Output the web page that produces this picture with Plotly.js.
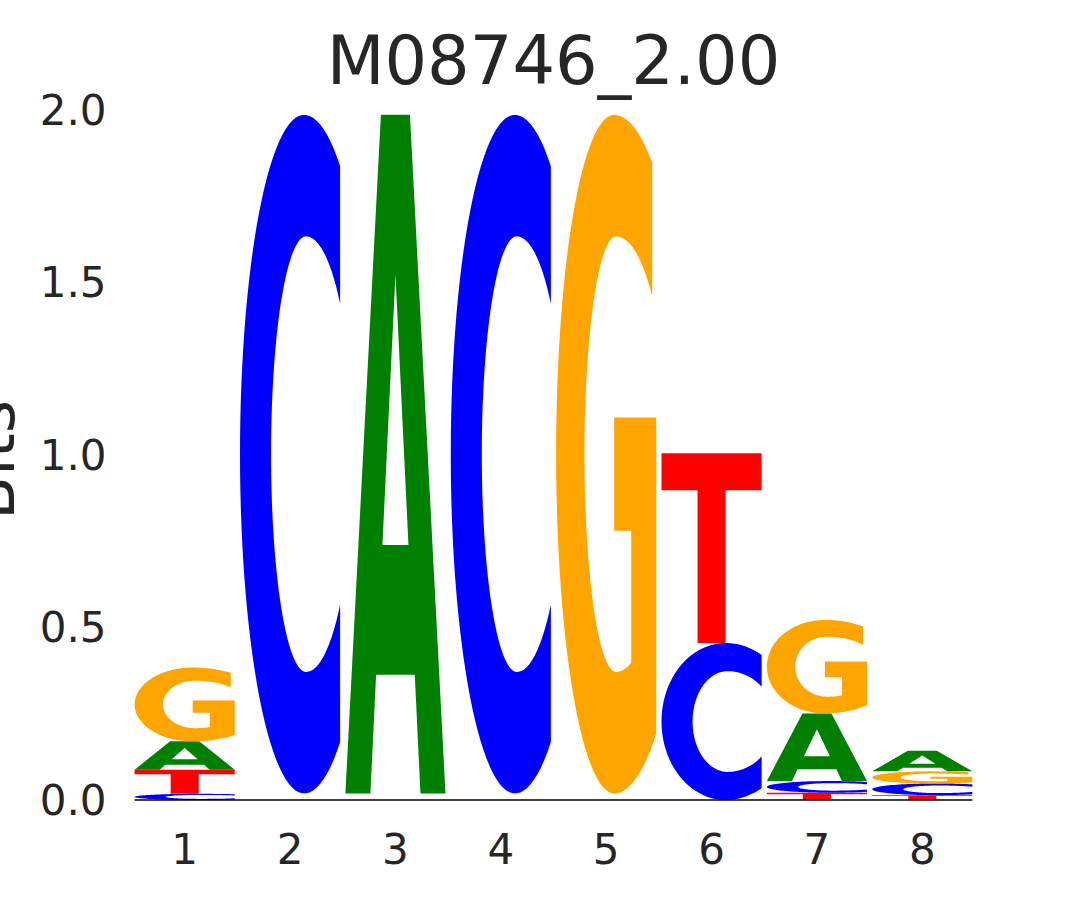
<!DOCTYPE html>
<html>
<head>
<meta charset="utf-8">
<script src="https://cdn.plot.ly/plotly-3.0.1.min.js"></script>
<style>html,body{margin:0;padding:0;background:#fff;}#chart{width:1080px;height:900px;}</style>
</head>
<body>
<div id="chart"></div>
<script>
// ---- data (bits per letter, per position) ----
const positions = [1, 2, 3, 4, 5, 6, 7, 8];
const tickLabels = ['1', '2', '3', '4', '5', '6', '7', '8'];
const letters = ['A', 'C', 'G', 'T'];
const bitsA = [0.082, 0.006, 1.967, 0.006, 0.006, 0.000, 0.196, 0.060];
const bitsC = [0.018, 1.967, 0.006, 1.967, 0.006, 0.455, 0.034, 0.034];
const bitsG = [0.214, 0.007, 0.007, 0.007, 1.967, 0.000, 0.271, 0.035];
const bitsT = [0.070, 0.006, 0.006, 0.006, 0.007, 0.550, 0.021, 0.014];
const titleText = 'M08746_2.00';
const yTitle = 'Bits';

// ---- style ----
const colors = {A: '#008000', C: '#0000ff', G: '#ffa500', T: '#ff0000'};
const letterWidth = 0.95;
const minDrawn = 0.01;
const textColor = '#262626';
const fontFamily = 'DejaVu Sans, sans-serif';

// ---- glyph outlines in a unit box (u right, v up) ----
function arc(cx, cy, aL, aR, b, t0, t1, n) {
  const pts = [];
  for (let i = 0; i <= n; i++) {
    const t = (t0 + (t1 - t0) * i / n) * Math.PI / 180;
    const c = Math.cos(t), s = Math.sin(t);
    pts.push([cx + (c < 0 ? aL : aR) * c, cy + b * s]);
  }
  return pts;
}
function deg(x) { return x * 180 / Math.PI; }
function glyph(letter) {
  if (letter === 'A') {
    return [
      [[0, 0], [0.25, 0], [0.307, 0.175], [0.693, 0.175], [0.75, 0], [1, 0], [0.645, 1], [0.355, 1]],
      [[0.37, 0.366], [0.5, 0.765], [0.63, 0.366]]
    ];
  }
  if (letter === 'T') {
    return [[[0, 1], [0, 0.805], [0.36, 0.805], [0.36, 0], [0.64, 0], [0.64, 0.805], [1, 0.805], [1, 1]]];
  }
  if (letter === 'C') {
    const to = deg(Math.acos(0.36 / 0.68));
    const ti = deg(Math.acos(0.34 / 0.47));
    const outer = arc(0.64, 0.5, 0.64, 0.68, 0.5, to, 360 - to, 80);
    const inner = arc(0.66, 0.5, 0.35, 0.47, 0.321, 360 - ti, ti, 80);
    return [outer.concat(inner)];
  }
  if (letter === 'G') {
    const to1 = deg(Math.acos(0.38 / 0.74));
    const to2 = 360 - deg(Math.acos(0.42 / 0.74));
    const ti1 = 360 - deg(Math.acos(0.15 / 0.523));
    const ti2 = deg(Math.acos(0.36 / 0.523));
    const outer = arc(0.58, 0.5, 0.58, 0.74, 0.5, to1, to2, 80);
    const bar = [[1, 0.554], [0.58, 0.554], [0.58, 0.387], [0.75, 0.387]];
    const inner = arc(0.6, 0.5, 0.317, 0.523, 0.321, ti1, ti2, 80);
    return [outer.concat(bar, inner)];
  }
  return [];
}

function glyphPath(letter, xc, y0, h) {
  const x0 = xc - letterWidth / 2;
  return glyph(letter).map(function (contour) {
    return contour.map(function (p, i) {
      const x = x0 + p[0] * letterWidth;
      const y = y0 + p[1] * h;
      return (i === 0 ? 'M' : 'L') + x.toFixed(5) + ',' + y.toFixed(5);
    }).join(' ') + ' Z';
  }).join(' ');
}

const bits = {A: bitsA, C: bitsC, G: bitsG, T: bitsT};
const shapes = [];
positions.forEach(function (pos, i) {
  const stack = letters.map(function (l) { return {l: l, h: bits[l][i]}; })
    .sort(function (a, b) { return a.h - b.h; });
  let base = 0;
  stack.forEach(function (s) {
    if (s.h >= minDrawn) {
      shapes.push({
        type: 'path', xref: 'x', yref: 'y', layer: 'above',
        path: glyphPath(s.l, pos, base, s.h),
        fillcolor: colors[s.l], fillrule: 'evenodd',
        line: {width: 0}
      });
    }
    base += s.h;
  });
});
// baseline
shapes.push({
  type: 'line', xref: 'x', yref: 'paper',
  x0: positions[0] - letterWidth / 2, x1: positions[positions.length - 1] + letterWidth / 2,
  y0: 0, y1: 0, line: {color: '#000000', width: 1.6}
});

const layout = {
  width: 1080, height: 900,
  margin: {l: 132, r: 105, t: 110, b: 100},
  paper_bgcolor: '#ffffff', plot_bgcolor: '#ffffff',
  showlegend: false,
  title: {
    text: titleText, x: 0.5125, xanchor: 'center', xref: 'container',
    y: 1 - 61 / 900, yanchor: 'middle', yref: 'container',
    font: {family: fontFamily, size: 67, color: textColor}
  },
  xaxis: {
    range: [0.5, 8.5], tickmode: 'array', tickvals: positions, ticktext: tickLabels,
    showgrid: false, zeroline: false, showline: false,
    ticks: 'outside', ticklen: 13, tickcolor: 'rgba(0,0,0,0)',
    tickfont: {family: fontFamily, size: 42, color: textColor}, fixedrange: true
  },
  yaxis: {
    range: [0, 2], tickmode: 'array', tickvals: [0, 0.5, 1, 1.5, 2],
    ticktext: ['0.0', '0.5', '1.0', '1.5', '2.0'],
    showgrid: false, zeroline: false, showline: false,
    ticks: 'outside', ticklen: 16, tickcolor: 'rgba(0,0,0,0)',
    tickfont: {family: fontFamily, size: 42, color: textColor}, fixedrange: true
  },
  annotations: [{
    text: yTitle, textangle: -90, showarrow: false,
    xref: 'paper', yref: 'paper', x: (-8 - 132) / 843, y: 0.4928,
    xanchor: 'center', yanchor: 'middle',
    font: {family: fontFamily, size: 64, color: textColor}
  }],
  shapes: shapes
};

Plotly.newPlot('chart', [{x: [], y: [], type: 'scatter', hoverinfo: 'skip'}], layout, {staticPlot: true, displayModeBar: false});
</script>
</body>
</html>
